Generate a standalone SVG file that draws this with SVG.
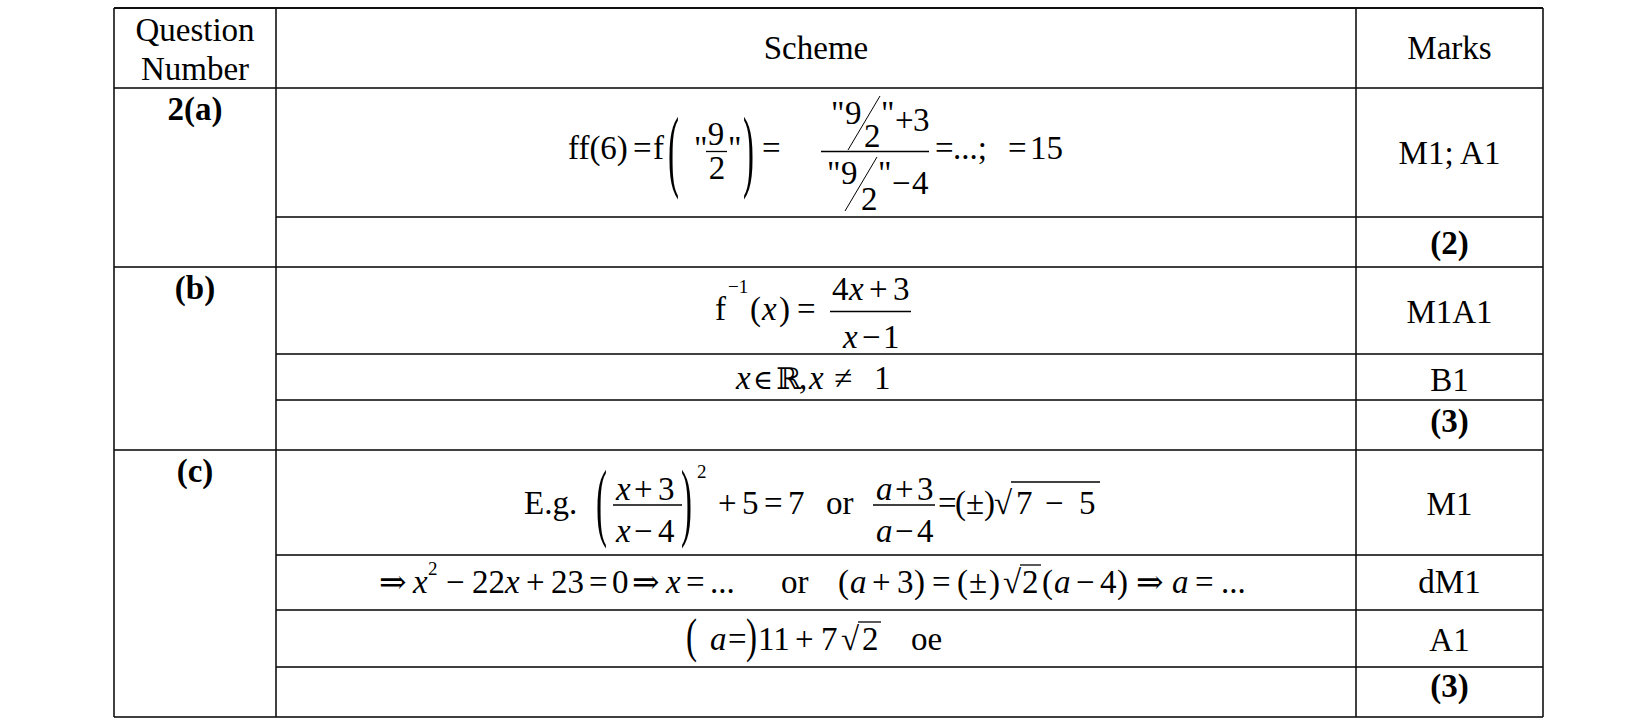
<svg xmlns="http://www.w3.org/2000/svg" width="1648" height="720" viewBox="0 0 1648 720">
<style>
text { font-family: "Liberation Serif", "DejaVu Serif", "Times New Roman", serif; font-size: 33px; fill: #000; }
.b { font-weight: bold; }
.i { font-style: italic; }
.m { text-anchor: middle; }
.sup { font-size: 19px; }
.h { stroke: #404040; stroke-width: 2; }
.v { stroke: #111; stroke-width: 1.6; }
.r { stroke: #000; stroke-width: 1.3; fill: none; }
.sl { stroke: #000; stroke-width: 1; fill: none; }
</style>
<rect x="0" y="0" width="1648" height="720" fill="#fff"/>
<g id="grid">
<line class="h" x1="114" y1="8" x2="1543" y2="8" style="stroke:#111"/>
<line class="h" x1="114" y1="88" x2="1543" y2="88"/>
<line class="h" x1="276" y1="217" x2="1543" y2="217"/>
<line class="h" x1="114" y1="267" x2="1543" y2="267"/>
<line class="h" x1="276" y1="354" x2="1543" y2="354"/>
<line class="h" x1="276" y1="400" x2="1543" y2="400"/>
<line class="h" x1="114" y1="450" x2="1543" y2="450"/>
<line class="h" x1="276" y1="555" x2="1543" y2="555"/>
<line class="h" x1="276" y1="610" x2="1543" y2="610"/>
<line class="h" x1="276" y1="667" x2="1543" y2="667"/>
<line class="h" x1="114" y1="717" x2="1543" y2="717"/>
<line class="v" x1="114" y1="8" x2="114" y2="717"/>
<line class="v" x1="276" y1="8" x2="276" y2="717"/>
<line class="v" x1="1356" y1="8" x2="1356" y2="717"/>
<line class="v" x1="1543" y1="8" x2="1543" y2="717"/>
</g>
<g id="connectors"></g>
<g id="header">
<text x="195" y="41" class="m">Question</text>
<text x="195" y="80" class="m">Number</text>
<text x="816" y="59" class="m">Scheme</text>
<text x="1449.5" y="59" class="m">Marks</text>
</g>
<g id="row-2a">
<text x="195" y="120" class="b m">2(a)</text>
<text x="568" y="159">ff(6)</text>
<text x="633" y="159">=</text>
<text x="653" y="159">f</text>
<text transform="translate(668,179.5) scale(1,2.75)">(</text>
<text x="694" y="159">&quot;</text>
<text x="716" y="145" class="m">9</text>
<line class="r" x1="706" y1="151.5" x2="727" y2="151.5"/>
<text x="717" y="179" class="m">2</text>
<text x="728" y="159">&quot;</text>
<text transform="translate(743,179.5) scale(1,2.75)">)</text>
<text x="762" y="159">=</text>
<line class="r" x1="821" y1="151.5" x2="929" y2="151.5"/>
<text x="831" y="124">&quot;</text>
<text x="845" y="124">9</text>
<line class="sl" x1="848" y1="150" x2="880" y2="96"/>
<text x="864" y="147">2</text>
<text x="881" y="124">&quot;</text>
<text x="895" y="131">+</text>
<text x="913" y="131">3</text>
<text x="827" y="184">&quot;</text>
<text x="841" y="184">9</text>
<line class="sl" x1="845" y1="211" x2="877" y2="157"/>
<text x="861" y="210">2</text>
<text x="878" y="184">&quot;</text>
<text x="892" y="194">−</text>
<text x="912" y="194">4</text>
<text x="935" y="159">=</text>
<text x="953" y="159">...;</text>
<text x="1008" y="159">=</text>
<text x="1030" y="159">15</text>
<text x="1449.5" y="164" class="m">M1; A1</text>
<text x="1449.5" y="254" class="m b">(2)</text>
</g>
<g id="row-b">
<text x="195" y="299" class="b m">(b)</text>
<text x="715" y="320">f</text>
<text x="728" y="293" class="sup">−1</text>
<text x="750" y="320">(</text>
<text x="762" y="320" class="i">x</text>
<text x="779" y="320">)</text>
<text x="797" y="320">=</text>
<text x="832" y="300">4</text>
<text x="849" y="300" class="i">x</text>
<text x="869" y="300">+</text>
<text x="893" y="300">3</text>
<line class="r" x1="830" y1="311.5" x2="911" y2="311.5"/>
<text x="843" y="348" class="i">x</text>
<text x="862" y="348">−</text>
<text x="883" y="348">1</text>
<text x="1449.5" y="323" class="m">M1A1</text>
<text x="736" y="389" class="i">x</text>
<text x="753" y="389" style="font-size:27px">∈</text>
<text x="776" y="389" style="font-size:30px">ℝ</text>
<text x="799" y="389">,</text>
<text x="809" y="389" class="i">x</text>
<text x="834" y="389">≠</text>
<text x="874" y="389">1</text>
<text x="1449.5" y="391" class="m">B1</text>
<text x="1449.5" y="432" class="m b">(3)</text>
</g>
<g id="row-c">
<text x="195" y="482" class="b m">(c)</text>
<text x="524" y="514">E.g.</text>
<text transform="translate(596,529.5) scale(1,2.65)">(</text>
<text x="616" y="500" class="i">x</text>
<text x="634" y="500">+</text>
<text x="658" y="500">3</text>
<line class="r" x1="613" y1="505" x2="682" y2="505"/>
<text x="616" y="542" class="i">x</text>
<text x="634" y="542">−</text>
<text x="658" y="542">4</text>
<text transform="translate(681,529.5) scale(1,2.65)">)</text>
<text x="697" y="478" class="sup">2</text>
<text x="718" y="514">+</text>
<text x="742" y="514">5</text>
<text x="764" y="514">=</text>
<text x="788" y="514">7</text>
<text x="826" y="514">or</text>
<text x="876" y="500" class="i">a</text>
<text x="895" y="500">+</text>
<text x="917" y="500">3</text>
<line class="r" x1="873" y1="505" x2="935" y2="505"/>
<text x="876" y="542" class="i">a</text>
<text x="895" y="542">−</text>
<text x="917" y="542">4</text>
<text x="938" y="514">=</text>
<text x="955" y="514">(±)</text>
<text transform="translate(994,514)">√</text>
<line class="r" x1="1011" y1="482" x2="1100" y2="482"/>
<text x="1016" y="514">7</text>
<text x="1045" y="514">−</text>
<text x="1079" y="514">5</text>
<text x="1449.5" y="515" class="m">M1</text>
<text x="379" y="593">⇒</text>
<text x="413" y="593" class="i">x</text>
<text x="428" y="575" class="sup">2</text>
<text x="446" y="593">−</text>
<text x="472" y="593">22</text>
<text x="505" y="593" class="i">x</text>
<text x="526" y="593">+</text>
<text x="551" y="593">23</text>
<text x="589" y="593">=</text>
<text x="612" y="593">0</text>
<text x="632" y="593">⇒</text>
<text x="666" y="593" class="i">x</text>
<text x="686" y="593">=</text>
<text x="710" y="593">...</text>
<text x="781" y="593">or</text>
<text x="838" y="593">(</text>
<text x="850" y="593" class="i">a</text>
<text x="872" y="593">+</text>
<text x="897" y="593">3</text>
<text x="914" y="593">)</text>
<text x="932" y="593">=</text>
<text x="957" y="593">(</text>
<text x="969" y="593">±</text>
<text x="989" y="593">)</text>
<text transform="translate(1003,593)">√</text>
<line class="r" x1="1020" y1="565" x2="1041" y2="565"/>
<text x="1022" y="593">2</text>
<text x="1042" y="593">(</text>
<text x="1054" y="593" class="i">a</text>
<text x="1076" y="593">−</text>
<text x="1100" y="593">4</text>
<text x="1117" y="593">)</text>
<text x="1136" y="593">⇒</text>
<text x="1172" y="593" class="i">a</text>
<text x="1195" y="593">=</text>
<text x="1221" y="593">...</text>
<text x="1449.5" y="593" class="m">dM1</text>
<text transform="translate(686,652) scale(1,1.45)">(</text>
<text x="710" y="650" class="i">a</text>
<text x="728" y="650">=</text>
<text transform="translate(746,652) scale(1,1.45)">)</text>
<text x="758" y="650">11</text>
<text x="795" y="650">+</text>
<text x="821" y="650">7</text>
<text transform="translate(841,650)">√</text>
<line class="r" x1="858" y1="622" x2="881" y2="622"/>
<text x="862" y="650">2</text>
<text x="911" y="650">oe</text>
<text x="1449.5" y="651" class="m">A1</text>
<text x="1449.5" y="697" class="m b">(3)</text>
</g>
</svg>
